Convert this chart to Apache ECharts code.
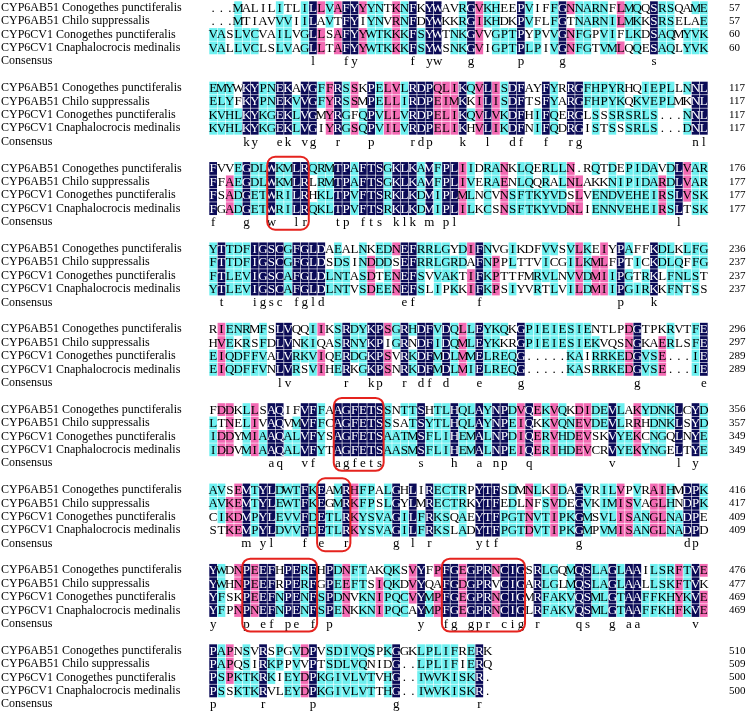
<!DOCTYPE html>
<html>
<head>
<meta charset="utf-8">
<script src="https://cdn.jsdelivr.net/npm/echarts@6/dist/echarts.min.js"></script>
<style>
  html, body { margin: 0; padding: 0; background: #fff; }
  #main { width: 747px; height: 716px; }
</style>
</head>
<body>
<div id="main"></div>
<script>
// sequence names (one per alignment row)
const seqNames = [
  'CYP6AB51 Conogethes punctiferalis',
  'CYP6AB51 Chilo suppressalis',
  'CYP6CV1 Conogethes punctiferalis',
  'CYP6CV1 Cnaphalocrocis medinalis'
];

// alignment, one block of 60 columns per array
const block1 = [
  '...MALILITLILLVAFYYYNTKNFKYWAVRGVKHEEPVIFFGNNARNFLMQQSRSQAME',
  '...MTIAVVVIILAVTFYIYNVRNFDYWKKRGIKHDKPVFLFGTNARNILMKKSRSELAE',
  'VASLVCVAILVGLLSAFYYWTKKKFSYWTNKGVVGPTPYPVVGNFGPVIFLKDSAQMYVK',
  'VALLVCLSLVAGLLTAFYYWTKKKFSYWSNKGVIGPTPLPIVGNFGTVMLQQESAQLYVK'
];
const block2 = [
  'EMYWKYPNEKAVGFFRSSKPELVLRDPQLIKQVLISDFAYFYRRGFHPYRHQIEPLLNNL',
  'ELYFKYPNEKVVGFYRSSMPELLIRDPEIMKKILISDFTSFYARGFHPYKQKVEPLMKNL',
  'KVHLKYKGEKLVGMYRGFQPVLLVRDPELIKQVLVKDFHIFQERGLSSSRSRLS...NNL',
  'KVHLKYKGEKLVGIYRGSQPVILVRDPELIKHVLIKDFNIFQDRGISTSSSRLS...DNL'
];
const block3 = [
  'FVVEGDLWKMLRQRMTPAFTSGKLKAMFPLIIDRANKLQERLLN.RQTDEPIDAVDLVAR',
  'FFAEGDLWKMLRLRMTPAFTSGKLKAMFPLIVERAENLQQRALNLAKKNIPIDARDLVAR',
  'FSADGETWRILRHKLTPVFTSRKLKDMIPLMLNCVNSFTKYVDSLVENDVEHEIRSLVSK',
  'FGADGETWRILRQKLTPVFTSRKLKDMIPLILKCSNSFTKYVDNLIENNVEHEIRSLTSK'
];
const block4 = [
  'YTTDFIGSCGFGLDAEALNKEDNEFRRLGYDIFNVGIKDFVVSVLKEIYPAFFKDLKLFG',
  'FTTDFIGSCGFGLDSDSINDDDSEFRRLGRDAFNPPLTTVICGILKMLFPTICKDLQFFG',
  'FTLEVIGSCAFGLDLNTASDTENEFSVVAKTIFKPTTFMRVLNVVDMIIPGTRKLFNLST',
  'YTLEVIGSCAFGLDLNTVSDEENEFSLIPKKIFKPSIYVRTLVILDMIIPGIRKKFNTSS'
];
const block5 = [
  'RIENRMFSLVQQIIKSRDYKPSGRHDFVDQLLEYKQKGPIEIESIENTLPDGTPKRVTFE',
  'HVEKRSFDLVNKIQASRNYKPIGRNDFIDQMLEYKKRGPIEIESIEKVQSNGKAERLSFE',
  'EIQDFFVALVRKVIQERDGKPSVRKDFMDLMMELREQG.....KAIRRKEDGVSE...IE',
  'EIQDFFVNLVRSVIHERKGKPSNRKDFMDLMIELREQG.....KASRRKEDGVSE...IE'
];
const block6 = [
  'FDDKLLSAQIFVFFAAGFETSSNTTSHTLHQLAYNPDVQEKVQKDIDEVLAKYDNKLCYD',
  'LTNELIVAQVMVFFCAGFETSSSATSYTLHQLAYNPEIQKKVQNEVDEVLRRHDNKLSYD',
  'IDDYMIAAQALVFYSAGFETSAATMSFLIHEMALNPDIQERVHDEVSKVYEKCNGQLNYE',
  'IDDVMIAAQALVFYTAGFETSAASMSFLIHEMALNPEIQERIHDEVCRVYEKYNGELTYE'
];
const block7 = [
  'AVSEMTYLDWTFKEAMRHFPALGHLIRECTRPYTFSDMNLKIDAGVRILVPVRAIHMDPK',
  'AVKEMTYLEWTFKEGMRKFPSLGYLMRECTRKYTFEDLNFSVDEGVKIMISVAGLHNDPK',
  'CIKDMPYLEVVFDETLRKYSVAGILFRKSQAEYTFPGTNVTIPKGMSVLISANGLNADPE',
  'STKEMPYLDVVFDETLRKYSVAGILFRKSLADYTFPGTDVTIPKGMPVMISANGLNADPD'
];
const block8 = [
  'YWDNPEEFHPERFHPDNFTAKQKSVYFPFGEGPRNCIGSRLGQMQSLAGLAAILSRFTVE',
  'YWHNPEEFRPERFGPEEFTSIQKDVYQAFGDGPRVCIGARLGLMQSLAGLAALLSKFTVK',
  'YFSKPEEFNPENFSPDNVKNIPQCVYMPFGEGPRNCIGMRFAKVQSMLGTAAFFKHYKVE',
  'YFPNPNEFNPENFSPENKKNIPQCAYMPFGEGPRNCIGLRFAKVQSMLGTAAFFKHFKVE'
];
const block9 = [
  'PAPNSVRSPGVDPVSDIVQSPKGGKLPLIFRERK',
  'PAPQSIRKPPVVPTSDLVQNIDG..LPLIFIERQ',
  'PSPKTKRKIEYDPKGIVLVTVHG..IWVKISKR.',
  'PSSKTKRVLEYDPKGIVLVTTHG..IWVKISKR.'
];
const blocks = [block1, block2, block3, block4, block5, block6, block7, block8, block9];

// red boxes: [block index, first column, last column]
const boxes = [[2, 8, 12], [5, 16, 21], [6, 14, 17], [7, 5, 13], [7, 29, 38]];

// residues treated as similar when shading
const simGroups = ['ILVM', 'FYW', 'DENQ', 'KRH', 'ST', 'AG'];

const NAVY = '#0b0b57', PINK = '#f26ab3', CYAN = '#6ef0f0';
const FONT = '"Liberation Serif", "DejaVu Serif", serif';
const FS = 13;

function similar(a, b) {
  return a === b || simGroups.some(g => g.includes(a) && g.includes(b));
}

// 3 = all identical, 2 = three of four, 1 = two of four
function columnLevels(col) {
  const lv = [0, 0, 0, 0], cnt = {};
  col.forEach(ch => { if (ch !== '.') cnt[ch] = (cnt[ch] || 0) + 1; });
  const best = Math.max(0, ...Object.values(cnt));
  if (best < 2) return lv;
  const top = Object.keys(cnt).filter(k => cnt[k] === best);
  const level = best === 4 ? 3 : best === 3 ? 2 : 1;
  col.forEach((ch, i) => {
    if (ch === '.') return;
    if (top.includes(ch) || (level < 3 && top.some(t => similar(t, ch)))) lv[i] = level;
  });
  return lv;
}

const rowLabels = [], rowNumbers = [], cells = [];
const totals = [0, 0, 0, 0];
blocks.forEach((blk, b) => {
  const base = b * 6;
  blk.forEach((s, r) => {
    totals[r] += s.replace(/\./g, '').length;
    rowLabels[base + r] = seqNames[r];
    rowNumbers[base + r] = String(totals[r]);
  });
  rowLabels[base + 4] = 'Consensus';
  rowNumbers[base + 4] = '';
  if (b < blocks.length - 1) { rowLabels[base + 5] = ''; rowNumbers[base + 5] = ''; }
  for (let c = 0; c < blk[0].length; c++) {
    const col = blk.map(s => s[c]);
    const lv = columnLevels(col);
    col.forEach((ch, r) => cells.push([c, base + r, ch, lv[r]]));
    if (col[0] !== '.' && col.every(ch => ch === col[0])) {
      cells.push([c, base + 4, col[0].toLowerCase(), 0]);
    }
  }
});

const colCats = [];
for (let i = 1; i <= 60; i++) colCats.push(String(i));

const boxData = boxes.map(d => [d[1] - 1, d[2] - 1, d[0] * 6, d[0] * 6 + 4]);

const chart = echarts.init(document.getElementById('main'));

chart.setOption({
  backgroundColor: '#ffffff',
  animation: false,
  grid: { left: 209, right: 39, top: 1, bottom: 5, outerBoundsMode: 'none' },
  xAxis: { type: 'category', data: colCats, show: false },
  yAxis: [{
    type: 'category',
    data: rowLabels,
    inverse: true,
    axisLine: { show: false },
    axisTick: { show: false },
    axisLabel: { interval: 0, align: 'left', margin: 208, color: '#000', fontFamily: FONT, fontSize: 12 }
  }, {
    type: 'category',
    data: rowNumbers,
    inverse: true,
    position: 'right',
    axisLine: { show: false },
    axisTick: { show: false },
    axisLabel: { interval: 0, align: 'left', margin: 21, color: '#000', fontFamily: FONT, fontSize: 11 }
  }],
  series: [{
    type: 'custom',
    silent: true,
    data: cells,
    encode: { x: 0, y: 1 },
    renderItem: function (params, api) {
      const item = cells[params.dataIndex];
      const pt = api.coord([api.value(0), api.value(1)]);
      const sz = api.size([1, 1]);
      const level = item[3];
      const children = [];
      if (level > 0) {
        children.push({
          type: 'rect',
          shape: { x: pt[0] - sz[0] / 2 + 0.3, y: pt[1] - sz[1] / 2 + 0.3, width: sz[0] - 0.6, height: sz[1] - 0.6 },
          style: { fill: level === 3 ? NAVY : level === 2 ? PINK : CYAN }
        });
      }
      children.push({
        type: 'text',
        x: pt[0],
        y: pt[1] + 0.5,
        style: {
          text: item[2],
          fill: level === 3 ? '#ffffff' : '#000000',
          font: FS + 'px ' + FONT,
          align: 'center',
          verticalAlign: 'middle'
        }
      });
      return { type: 'group', children: children };
    }
  }, {
    type: 'custom',
    silent: true,
    data: boxData,
    encode: { x: [0, 1], y: [2, 3] },
    renderItem: function (params, api) {
      const p1 = api.coord([api.value(0), api.value(2)]);
      const p2 = api.coord([api.value(1), api.value(3)]);
      const sz = api.size([1, 1]);
      const x = p1[0] - sz[0] / 2, y = p1[1] - sz[1] / 2 - 5;
      return {
        type: 'rect',
        shape: { x: x, y: y, width: p2[0] - p1[0] + sz[0], height: p2[1] - p1[1] + sz[1] + 6, r: 8 },
        style: { fill: 'none', stroke: '#e5231e', lineWidth: 2 }
      };
    }
  }]
});
</script>
</body>
</html>
